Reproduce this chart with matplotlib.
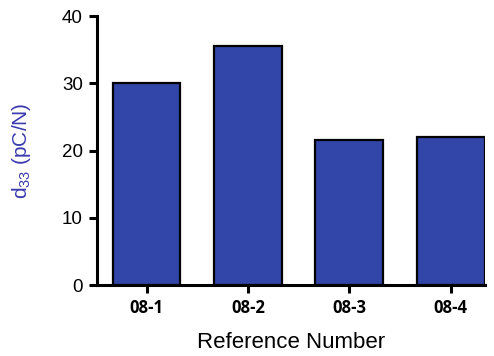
import matplotlib
matplotlib.use("Agg")
import matplotlib.pyplot as plt

plt.rcParams["mathtext.fontset"] = "custom"
plt.rcParams["mathtext.rm"] = "Liberation Sans"
plt.rcParams["mathtext.it"] = "Liberation Sans:italic"
plt.rcParams["mathtext.bf"] = "Liberation Sans:bold"

categories = ["08-1", "08-2", "08-3", "08-4"]
d33_values = [30.0, 35.5, 21.5, 22.0]
y_ticks = [0, 10, 20, 30, 40]

fig = plt.figure(figsize=(4.94, 3.56), dpi=100)
ax = fig.add_axes([0.196, 0.199, 0.786, 0.756])

x = range(len(categories))
ax.bar(x, d33_values, width=0.67, color="#3146A8", edgecolor="black",
       linewidth=1.6, zorder=3)

ax.set_ylim(0, 40)
ax.set_xlim(-0.49, 3.34)
ax.set_yticks(y_ticks)
ax.set_yticklabels([str(t) for t in y_ticks], fontfamily="Liberation Sans",
                   fontsize=13.5)
ax.set_xticks(list(x))
ax.set_xticklabels(categories, fontfamily="Open Sans", fontweight="bold",
                   fontsize=12)

for side in ("top", "right"):
    ax.spines[side].set_visible(False)
for side in ("left", "bottom"):
    ax.spines[side].set_linewidth(2.2)
ax.tick_params(axis="both", direction="out", length=6, width=2.2, pad=4)

ax.set_ylabel(r"d$_{\mathrm{33}}$ (pC/N)", color="#3a3aae",
              fontfamily="Liberation Sans", fontsize=15)
ax.yaxis.set_label_coords(-0.165, 0.5)
ax.set_xlabel("Reference Number", fontfamily="Liberation Sans", fontsize=16)
ax.xaxis.set_label_coords(0.5, -0.175)

fig.savefig("out.png", dpi=100)
